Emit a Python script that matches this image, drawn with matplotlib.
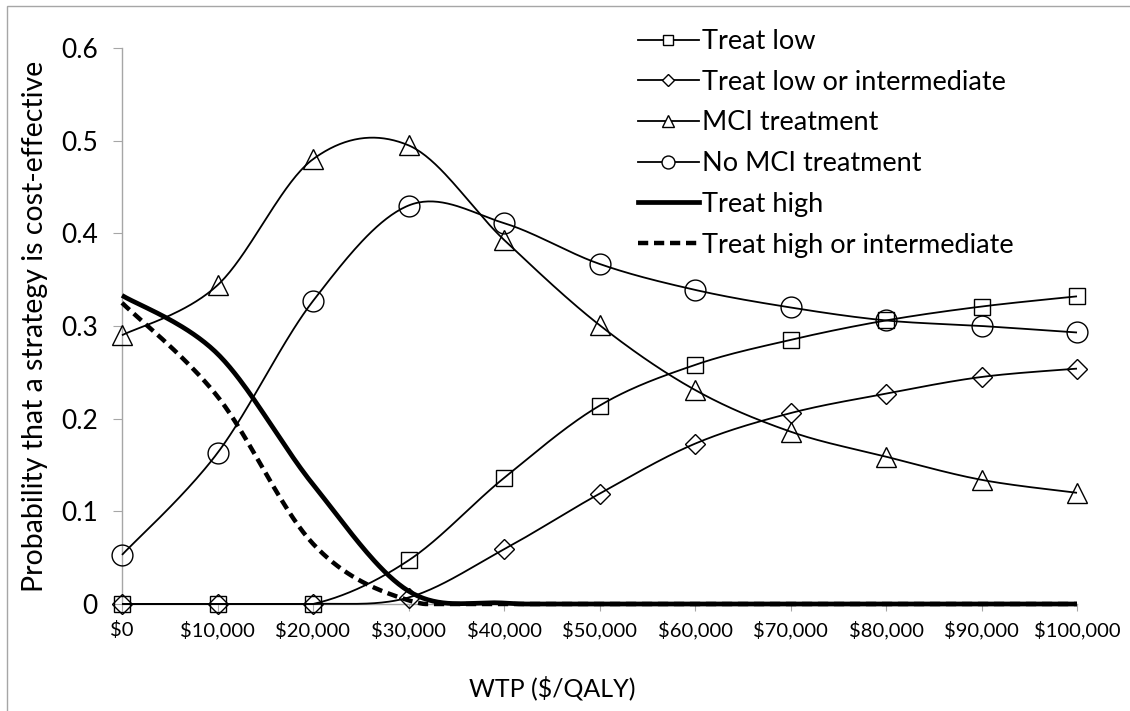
import numpy as np
import matplotlib.pyplot as plt
from matplotlib.lines import Line2D
from matplotlib.patches import Rectangle
from matplotlib.ticker import FuncFormatter

plt.rcParams['font.family'] = ['Lato', 'DejaVu Sans']

wtp = [0, 10000, 20000, 30000, 40000, 50000, 60000, 70000, 80000, 90000, 100000]

treat_low = [0, 0, 0, 0.047, 0.136, 0.214, 0.258, 0.285, 0.306, 0.321, 0.332]
treat_low_int = [0, 0, 0, 0.007, 0.059, 0.119, 0.173, 0.206, 0.227, 0.245, 0.254]
mci_treat = [0.290, 0.344, 0.480, 0.495, 0.393, 0.301, 0.231, 0.186, 0.159, 0.134, 0.120]
no_mci_treat = [0.053, 0.163, 0.327, 0.430, 0.411, 0.367, 0.339, 0.320, 0.306, 0.300, 0.293]
treat_high = [0.333, 0.270, 0.129, 0.014, 0.001, 0, 0, 0, 0, 0, 0]
treat_high_int = [0.325, 0.224, 0.065, 0.004, 0, 0, 0, 0, 0, 0, 0]

labels = ['Treat low', 'Treat low or intermediate', 'MCI treatment',
          'No MCI treatment', 'Treat high', 'Treat high or intermediate']


def smooth(xs, ys, n=40):
    # Catmull-Rom style bezier through every point (spreadsheet "smoothed line")
    p = np.column_stack([xs, ys]).astype(float)
    p = np.vstack([p[0], p, p[-1]])
    out = []
    t = np.linspace(0, 1, n)[:, None]
    for i in range(1, len(p) - 2):
        p0, p1, p2, p3 = p[i - 1], p[i], p[i + 1], p[i + 2]
        c1 = p1 + (p2 - p0) / 6
        c2 = p2 - (p3 - p1) / 6
        seg = ((1 - t) ** 3) * p1 + 3 * ((1 - t) ** 2) * t * c1 + 3 * (1 - t) * t ** 2 * c2 + t ** 3 * p2
        out.append(seg if i == 1 else seg[1:])
    seg = np.vstack(out)
    # probabilities never go below the axis
    return seg[:, 0], np.maximum(seg[:, 1], 0)


fig = plt.figure(figsize=(11.3, 7.11), dpi=100)
fig.patches.append(Rectangle((7 / 1130, -0.1), 1.2, 1 - 6 / 711 + 0.1, transform=fig.transFigure,
                             fill=False, edgecolor='#a6a6a6', linewidth=1.0))
ax = fig.add_axes([122 / 1130, 1 - 604 / 711, (1077 - 122) / 1130, (604 - 48) / 711])

series = [
    (treat_low, dict(marker='s', ms=12, lw=1.3, ls='-')),
    (treat_low_int, dict(marker='D', ms=10.5, lw=1.3, ls='-')),
    (mci_treat, dict(marker='^', ms=15, lw=1.3, ls='-')),
    (no_mci_treat, dict(marker='o', ms=15, lw=1.3, ls='-')),
    (treat_high, dict(marker=None, ms=0, lw=3.4, ls='-')),
    (treat_high_int, dict(marker=None, ms=0, lw=3.2, ls=(0, (2.3, 1.3)))),
]

handles = []
for (vals, st), name in zip(series, labels):
    sx, sy = smooth(wtp, vals)
    ax.plot(sx, sy, color='black', lw=st['lw'], ls=st['ls'], solid_capstyle='butt',
            zorder=3, clip_on=False)
    if st['marker']:
        ax.plot(wtp, vals, ls='none', marker=st['marker'], ms=st['ms'], mfc='none',
                mec='black', mew=1.0, zorder=4, clip_on=False)
    handles.append(Line2D([], [], color='black', lw=st['lw'], ls=st['ls'],
                          marker=st['marker'], ms=st['ms'] * 0.62, mfc='white', mec='black', mew=1.0))

ax.set_xlim(0, 100000)
ax.set_ylim(0, 0.6)
ax.set_xticks(wtp)
ax.set_xticklabels(['${:,}'.format(v) for v in wtp], fontsize=14.5)
ax.set_yticks(np.arange(0, 0.61, 0.1))
ax.yaxis.set_major_formatter(FuncFormatter(lambda v, p: '{:g}'.format(round(v, 1))))
ax.tick_params(axis='y', labelsize=19, length=6.5, color='#a6a6a6', pad=11)
ax.tick_params(axis='x', length=5, color='#a6a6a6', pad=7)
for s in ['top', 'right']:
    ax.spines[s].set_visible(False)
for s in ['left', 'bottom']:
    ax.spines[s].set_color('#a6a6a6')
    ax.spines[s].set_linewidth(1.0)
ax.patch.set_alpha(0)

fig.text(35 / 1130, 1 - 326 / 711, 'Probability that a strategy is cost-effective',
         fontsize=20.5, rotation=90, ha='center', va='center')
fig.text(552 / 1130, 1 - 688 / 711, 'WTP ($/QALY)', fontsize=18, ha='center', va='center')

fig.legend(handles, labels, loc='upper left', bbox_to_anchor=(638 / 1130, 1 - 29 / 711),
           frameon=False, fontsize=19.5, handlelength=2.25, handletextpad=0.1,
           labelspacing=0.58, borderaxespad=0, borderpad=0)

fig.savefig('out.png', dpi=100)
